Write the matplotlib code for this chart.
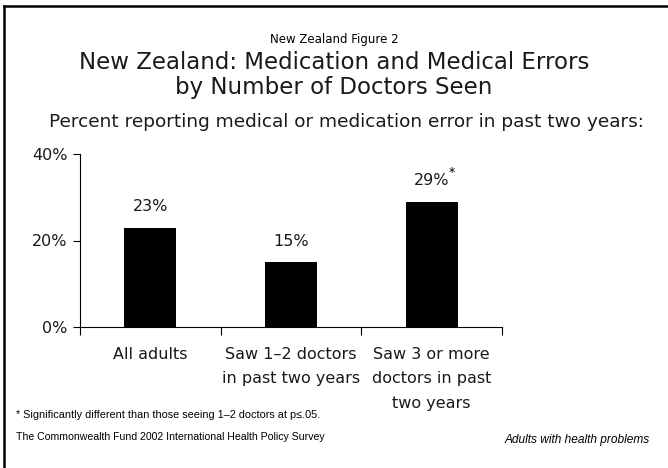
import matplotlib
matplotlib.use("Agg")
import matplotlib.pyplot as plt
from matplotlib.lines import Line2D

categories = ["All adults", "Saw 1\u20132 doctors\nin past two years", "Saw 3 or more\ndoctors in past\ntwo years"]
values = [23, 15, 29]
value_labels = ["23%", "15%", "29%"]
significant = [False, False, True]
yticks = [0, 20, 40]
ytick_labels = ["0%", "20%", "40%"]

W, H = 668, 468
fig = plt.figure(figsize=(W / 100, H / 100), dpi=100)
FONT = "DejaVu Sans"
TXT = "#1a1a1a"

def fx(px):
    return px / W

def fy(py):
    return 1 - py / H

# frame lines (top and left)
fig.add_artist(Line2D([fx(4), fx(4)], [fy(6), 0], transform=fig.transFigure, color="black", lw=1.8))
fig.add_artist(Line2D([fx(4), 1], [fy(6), fy(6)], transform=fig.transFigure, color="black", lw=1.8))

ax = fig.add_axes([fx(80), fy(327), fx(502) - fx(80), fy(154) - fy(327)])
x = list(range(len(categories)))
ax.bar(x, values, width=0.37, color="black")
ax.set_xlim(-0.5, len(categories) - 0.5)
ax.set_ylim(0, 40)
ax.set_yticks(yticks)
ax.set_yticklabels(ytick_labels, fontsize=11.5, family=FONT, color=TXT)
ax.set_xticks([-0.5, 0.5, 1.5, 2.5])
ax.set_xticklabels([])
ax.tick_params(axis="y", direction="out", length=5, width=0.8, pad=4)
ax.tick_params(axis="x", direction="out", length=6, width=0.8)
for s in ["top", "right"]:
    ax.spines[s].set_visible(False)
ax.spines["left"].set_linewidth(0.8)
ax.spines["bottom"].set_linewidth(0.8)

for xi, v, lab, sig in zip(x, values, value_labels, significant):
    ax.annotate(lab, (xi, v), xytext=(0, 21), textcoords="offset pixels",
                ha="center", va="center", fontsize=11.5, family=FONT, color=TXT)
    if sig:
        ax.annotate("*", (xi, v), xytext=(17, 29), textcoords="offset pixels",
                    ha="left", va="center", fontsize=9, family=FONT)

for xi, cat in zip(x, categories):
    ax.annotate(cat, (xi, 0), xytext=(0, -20), textcoords="offset pixels",
                ha="center", va="top", fontsize=11.5, family=FONT, linespacing=1.78,
                color=TXT)

fig.text(0.5, fy(40), "New Zealand Figure 2", ha="center", va="center", fontsize=8.5, family=FONT)
fig.text(0.5, fy(75), "New Zealand: Medication and Medical Errors\nby Number of Doctors Seen",
         ha="center", va="center", fontsize=16.5, family=FONT, linespacing=1.12, color=TXT)
fig.text(fx(346), fy(122), "Percent reporting medical or medication error in past two years:",
         ha="center", va="center", fontsize=13.3, family=FONT, color=TXT)
fig.text(fx(16), fy(415), "* Significantly different than those seeing 1\u20132 doctors at p\u2264.05.",
         ha="left", va="center", fontsize=7.8, family="Liberation Sans")
fig.text(fx(16), fy(437), "The Commonwealth Fund 2002 International Health Policy Survey",
         ha="left", va="center", fontsize=7.6, family="Liberation Sans")
fig.text(fx(650), fy(440), "Adults with health problems",
         ha="right", va="center", fontsize=8.6, family="Liberation Sans", style="italic")

fig.savefig("out.png", dpi=100)
